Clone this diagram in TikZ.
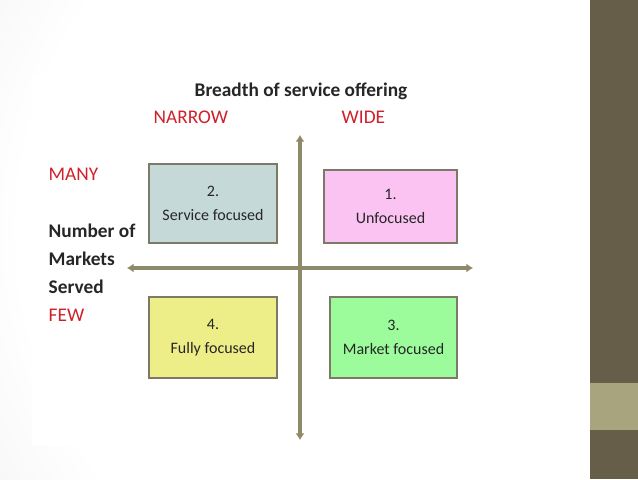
\documentclass[tikz,border=0pt]{standalone}
\usepackage{fontspec}
\setmainfont{Carlito}
\usetikzlibrary{arrows.meta}

\definecolor{bandDark}{HTML}{665E48}
\definecolor{bandLight}{HTML}{A8A57E}
\definecolor{axisCol}{HTML}{8E8A68}
\definecolor{boxEdge}{HTML}{7C7A66}
\definecolor{labelRed}{HTML}{D0202A}
\definecolor{textDark}{HTML}{262626}
\definecolor{fillService}{HTML}{C5D9D9}
\definecolor{fillUnfocused}{HTML}{FBC3F2}
\definecolor{fillFully}{HTML}{EEEE88}
\definecolor{fillMarket}{HTML}{9CFC9C}
\pgfdeclareradialshading{slidebg}{\pgfpoint{0bp}{0bp}}{color(0bp)=(white); color(20bp)=(white); color(36bp)=(black!10); color(50bp)=(black!13)}

\begin{document}
\begin{tikzpicture}[x=0.75pt, y=-0.75pt,
    quadbox/.style={draw=boxEdge, line width=1.1pt, align=center, text=textDark,
        font=\fontsize{12}{18}\selectfont, minimum width=96pt, minimum height=60pt},
    axis/.style={axisCol, line width=3.2pt, {Latex[length=5pt,width=7pt]}-{Latex[length=5pt,width=7pt]}},
    redlabel/.style={anchor=west, text=labelRed, font=\fontsize{14.5}{18}\selectfont},
    axislabel/.style={anchor=west, text=textDark, font=\fontsize{14.5}{18}\selectfont\bfseries}]
    % slide background
    \useasboundingbox (0,0) rectangle (638,479);
    \begin{scope}
        \clip (0,0) rectangle (590,479);
        \shade[shading=slidebg] (-80,-270) rectangle (920,730);
    \end{scope}
    \fill[bandDark] (590,0) rectangle (638,479);
    \fill[bandLight] (590,383) rectangle (638,430);
    \fill[white] (32,74) rectangle (565,446);

    % axes
    \coordinate (west) at (127,268);
    \coordinate (east) at (473,268);
    \coordinate (north) at (300,135);
    \coordinate (south) at (300,440);
    \draw[axis] (west) -- (east);
    \draw[axis] (north) -- (south);

    % quadrants
    \node[quadbox, fill=fillService, minimum height=59pt] (service) at (213,203.5) {2.\\Service focused};
    \node[quadbox, fill=fillUnfocused, minimum width=100pt, minimum height=55pt] (unfocused) at (390.5,206.5) {1.\\Unfocused};
    \node[quadbox, fill=fillFully, minimum height=61pt] (fully) at (213,337.5) {4.\\Fully focused};
    \node[quadbox, fill=fillMarket, minimum width=95pt, minimum height=61pt] (market) at (393.5,337.5) {3.\\Market focused};

    % labels
    \node[text=textDark, font=\fontsize{14.5}{18}\selectfont\bfseries] (breadth) at (301,91) {Breadth of service offering};
    \node[redlabel] (narrow) at (149,117) {NARROW};
    \node[redlabel] (wide) at (337,117) {WIDE};
    \node[redlabel] (many) at (44,174) {MANY};
    \node[axislabel] (number) at (44,231) {Number of};
    \node[axislabel] (markets) at (44,259) {Markets};
    \node[axislabel] (served) at (44,287) {Served};
    \node[redlabel] (few) at (44,315) {FEW};
\end{tikzpicture}
\end{document}
